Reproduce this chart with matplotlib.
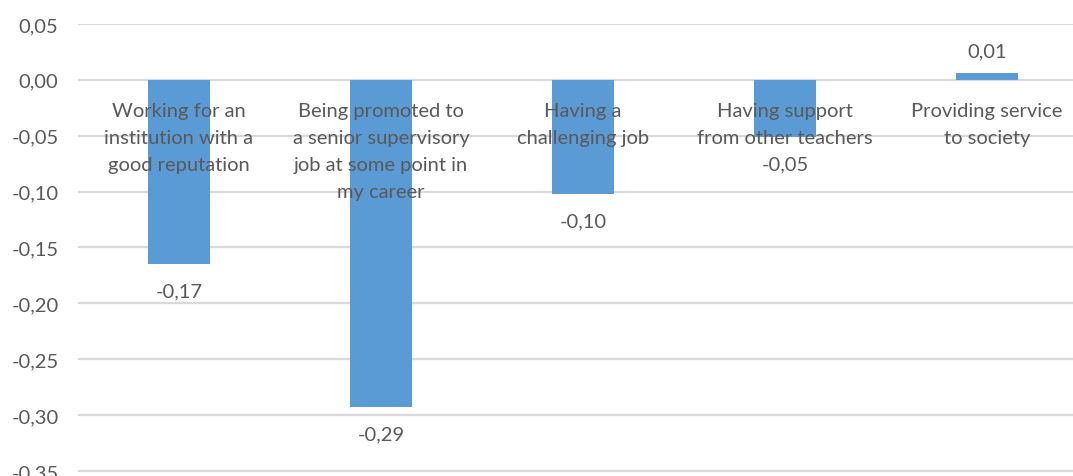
import matplotlib
matplotlib.use('Agg')
import matplotlib.pyplot as plt
from matplotlib.ticker import FuncFormatter

categories = [
    'Working for an\ninstitution with a\ngood reputation',
    'Being promoted to\na senior supervisory\njob at some point in\nmy career',
    'Having a\nchallenging job',
    'Having support\nfrom other teachers',
    'Providing service\nto society',
]
values = [-0.165, -0.293, -0.102, -0.051, 0.006]
value_labels = ['-0,17', '-0,29', '-0,10', '-0,05', '0,01']
y_ticks = [0.05, 0.0, -0.05, -0.10, -0.15, -0.20, -0.25, -0.30, -0.35]

text_color = '#595959'
bar_color = '#5b9bd5'
plt.rcParams['font.family'] = ['Lato', 'DejaVu Sans']

fig = plt.figure(figsize=(10.73, 4.77), dpi=100)
ax = fig.add_axes([78 / 1073, 0.0, 1010 / 1073, 452 / 477])

x = list(range(len(categories)))
ax.bar(x, values, width=0.31, color=bar_color, zorder=2)

ax.set_xlim(-0.5, len(categories) - 0.5)
ax.set_ylim(-0.3545, 0.05)
ax.set_yticks(y_ticks)
ax.yaxis.set_major_formatter(FuncFormatter(lambda v, p: ('%.2f' % v).replace('.', ',').replace('-0,00', '0,00')))
ax.tick_params(axis='y', length=0, pad=14, labelsize=14.5, labelcolor=text_color)
ax.set_xticks([])
ax.grid(axis='y', color='#d9d9d9', linewidth=1.6, zorder=0)
for s in ax.spines.values():
    s.set_visible(False)

# category labels sit just under the zero line
for i, name in enumerate(categories):
    ax.annotate(name, xy=(i, 0), xytext=(0, -22), textcoords='offset pixels',
                ha='center', va='top', fontsize=14.5, color=text_color,
                linespacing=1.72, zorder=3, annotation_clip=False)

# data labels
for i, (v, lab) in enumerate(zip(values, value_labels)):
    if v < 0:
        ax.annotate(lab, xy=(i, v), xytext=(0, -27), textcoords='offset pixels',
                    ha='center', va='center', fontsize=14.5, color=text_color, zorder=3)
    else:
        ax.annotate(lab, xy=(i, v), xytext=(0, 22), textcoords='offset pixels',
                    ha='center', va='center', fontsize=14.5, color=text_color, zorder=3)

fig.savefig('out.png', dpi=100)
